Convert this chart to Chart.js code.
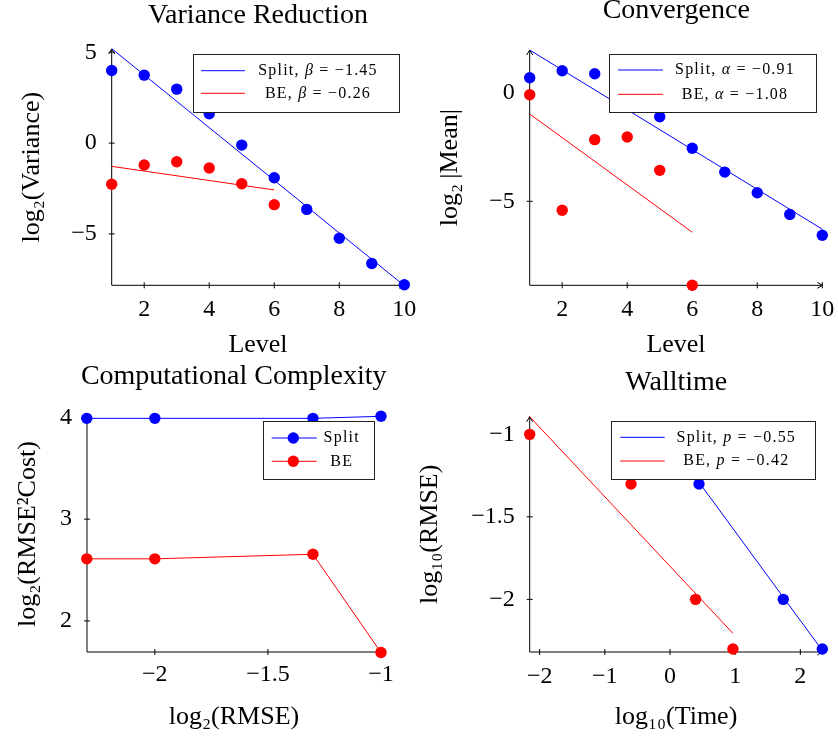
<!DOCTYPE html>
<html><head><meta charset="utf-8">
<script src="https://cdn.jsdelivr.net/npm/chart.js@4.4.0/dist/chart.umd.min.js"></script>
<style>
html,body{margin:0;padding:0;background:#fff;}
body{width:838px;height:739px;position:relative;overflow:hidden;}
canvas{position:absolute;left:0;top:0;width:838px;height:739px;}
</style></head><body>
<canvas id="c1" width="838" height="739"></canvas>
<canvas id="c2" width="838" height="739"></canvas>
<canvas id="c3" width="838" height="739"></canvas>
<canvas id="c4" width="838" height="739"></canvas>
<script>
// ---------- data ----------
const levels   = [1, 2, 3, 4, 5, 6, 7, 8, 9, 10];
const beLevels = [1, 2, 3, 4, 5, 6];

// Variance Reduction
const varSplit    = [4.0, 3.74, 2.97, 1.61, -0.11, -1.91, -3.65, -5.24, -6.63, -7.80];
const varBE       = [-2.27, -1.21, -1.03, -1.37, -2.24, -3.39];
const varSplitFitX = [1, 10];
const varSplitFitY = [5.2, -7.85];
const varBEFitX    = [1, 6];
const varBEFitY    = [-1.28, -2.58];

// Convergence
const meanSplit    = [0.67, 0.99, 0.85, -0.2, -1.12, -2.57, -3.66, -4.61, -5.60, -6.56];
const meanBE       = [-0.11, -5.41, -2.17, -2.05, -3.58, -8.85];
const meanSplitFitX = [1, 10];
const meanSplitFitY = [1.94, -6.28];
const meanBEFitX    = [1, 6];
const meanBEFitY    = [-0.995, -6.42];

// Computational Complexity
const rmseLog2   = [-2.301, -2.0, -1.301, -1.0];
const compSplit  = [3.99, 3.99, 3.99, 4.01];
const compBE     = [2.61, 2.61, 2.655, 1.69];

// Walltime
const wallBETime    = [-2.153, -0.598, 0.393, 0.966];
const wallBERmse    = [-1.0, -1.301, -2.0, -2.301];
const wallSplitTime = [0.445, 1.738, 2.337];
const wallSplitRmse = [-1.301, -2.0, -2.301];
const wallBEFitX    = [-2.153, 0.966];
const wallBEFitY    = [-0.893, -2.206];
const wallSplitFitX = [0.445, 2.337];
const wallSplitFitY = [-1.29, -2.31];

// tick labels
const levelTicks   = [2, 4, 6, 8, 10];
const varYTicks    = [5, 0, -5];
const meanYTicks   = [0, -5];
const compXTicks   = [-2, -1.5, -1];
const compYTicks   = [4, 3, 2];
const wallXTicks   = [-2, -1, 0, 1, 2];
const wallYTicks   = [-1, -1.5, -2];

// ---------- helpers ----------
const BLUE = '#0000ff', RED = '#ff0000';
const SERIF = '"Liberation Serif", "DejaVu Serif", serif';
const pts = (xs, ys) => xs.map((x, i) => ({x: x, y: ys[i]}));
const fmt = v => (v < 0 ? '\u2212' : '') + Math.abs(v);

function scatterDs(label, xs, ys, color) {
  return {label, data: pts(xs, ys), showLine: false, pointRadius: 5.7, pointBorderWidth: 0,
    pointBackgroundColor: color, backgroundColor: color, borderColor: color, clip: false};
}
function lineDs(label, xs, ys, color, withPoints) {
  return {label, data: pts(xs, ys), showLine: true, borderWidth: 1, borderColor: color,
    backgroundColor: color, pointBackgroundColor: color, pointBorderWidth: 0,
    pointRadius: withPoints ? 5.7 : 0, clip: false, tension: 0};
}

const axesPlugin = {
  id: 'pgfAxes',
  beforeDatasetsDraw(chart) {
    const {ctx, chartArea: a, scales: {x, y}} = chart;
    ctx.save();
    ctx.strokeStyle = '#000'; ctx.lineWidth = 1;
    ctx.beginPath();
    ctx.moveTo(a.left, a.bottom); ctx.lineTo(a.left, a.top);
    ctx.moveTo(a.left, a.bottom); ctx.lineTo(a.right, a.bottom);
    // arrowheads
    ctx.moveTo(a.left - 3, a.top + 5); ctx.lineTo(a.left, a.top); ctx.lineTo(a.left + 3, a.top + 5);
    ctx.moveTo(a.right - 5, a.bottom - 3); ctx.lineTo(a.right, a.bottom); ctx.lineTo(a.right - 5, a.bottom + 3);
    x.ticks.forEach(t => { const p = x.getPixelForValue(t.value); ctx.moveTo(p, a.bottom - 3); ctx.lineTo(p, a.bottom + 3); });
    y.ticks.forEach(t => { const p = y.getPixelForValue(t.value); ctx.moveTo(a.left - 3, p); ctx.lineTo(a.left + 3, p); });
    ctx.stroke();
    ctx.restore();
  }
};

const overlayPlugin = {
  id: 'overlay',
  afterDraw(chart) {
    const o = chart.options.plugins.overlay;
    const ctx = chart.ctx;
    ctx.save();
    // title
    ctx.font = '28px ' + SERIF;
    ctx.fillStyle = '#000';
    ctx.textAlign = 'center'; ctx.textBaseline = 'middle';
    ctx.fillText(o.title, o.titleX, o.titleY);
    // legend
    const L = o.legend;
    const [x0, y0, x1, y1] = L.box;
    ctx.fillStyle = '#fff';
    ctx.fillRect(x0, y0, x1 - x0, y1 - y0);
    ctx.strokeStyle = '#222'; ctx.lineWidth = 1;
    ctx.strokeRect(Math.round(x0) + 0.5, Math.round(y0) + 0.5, Math.round(x1 - x0), Math.round(y1 - y0));
    L.rows.forEach(r => {
      ctx.strokeStyle = r.color; ctx.lineWidth = 1;
      ctx.beginPath(); ctx.moveTo(L.line[0], r.y); ctx.lineTo(L.line[1], r.y); ctx.stroke();
      if (L.marker) {
        ctx.fillStyle = r.color;
        ctx.beginPath(); ctx.arc(L.marker, r.y, 5.7, 0, Math.PI * 2); ctx.fill();
      }
      ctx.fillStyle = '#000';
      ctx.textAlign = 'left'; ctx.textBaseline = 'middle';
      ctx.letterSpacing = '1.2px';
      let total = 0;
      const widths = r.parts.map(([s, it]) => {
        ctx.font = (it ? 'italic ' : '') + '16px ' + SERIF;
        const w = ctx.measureText(s).width; total += w; return w;
      });
      let xx = L.cx - total / 2;
      r.parts.forEach(([s, it], i) => {
        ctx.font = (it ? 'italic ' : '') + '16px ' + SERIF;
        ctx.fillText(s, xx, r.y);
        xx += widths[i];
      });
      ctx.letterSpacing = '0px';
    });
    ctx.restore();
  }
};

function makeChart(id, c) {
  const canvas = document.getElementById(id);
  const W = canvas.width, H = canvas.height;
  return new Chart(canvas, {
    type: 'scatter',
    data: {datasets: c.datasets},
    plugins: [axesPlugin, overlayPlugin],
    options: {
      responsive: false, animation: false, devicePixelRatio: 1, events: [],
      layout: {autoPadding: false, padding: {left: c.ox, right: W - c.area.r, top: c.area.t, bottom: H - c.oy}},
      plugins: {legend: {display: false}, tooltip: {enabled: false}, title: {display: false},
        overlay: {title: c.title, titleX: c.titleX, titleY: c.titleY, legend: c.legend}},
      scales: {
        x: {
          type: 'linear', min: c.xMin, max: c.xMax,
          afterBuildTicks: s => { s.ticks = c.xTicks.map(v => ({value: v})); },
          afterFit: s => { s.height = c.oy - c.area.b; s.paddingLeft = 0; s.paddingRight = 0; },
          grid: {display: false, drawTicks: false}, border: {display: false},
          ticks: {autoSkip: false, maxRotation: 0, padding: c.xTickPad, color: '#000',
            font: {family: SERIF, size: 24}, callback: v => fmt(v)},
          title: {display: true, text: c.xTitle, color: '#000', font: {family: SERIF, size: 26, lineHeight: 1.2},
            padding: {top: 0, bottom: c.oy - c.xTitleY - 15.6}}
        },
        y: {
          type: 'linear', min: c.yMin, max: c.yMax,
          afterBuildTicks: s => { s.ticks = c.yTicks.map(v => ({value: v})); },
          afterFit: s => { s.width = c.area.l - c.ox; s.paddingTop = 0; s.paddingBottom = 0; },
          grid: {display: false, drawTicks: false}, border: {display: false},
          ticks: {autoSkip: false, padding: 15, color: '#000',
            font: {family: SERIF, size: 24}, callback: v => fmt(v)},
          title: {display: true, text: c.yTitle, color: '#000', font: {family: SERIF, size: 26, lineHeight: 1.2},
            padding: {top: c.yTitleX - c.ox - 15.6, bottom: 0}}
        }
      }
    }
  });
}

// Panel 1: Variance Reduction
makeChart('c1', {
  ox: 0, oy: 370,
  area: {l: 111.7, r: 404.3, t: 49, b: 285.3},
  xMin: 1, xMax: 10, yMin: -7.83, yMax: 5.18,
  xTicks: levelTicks, yTicks: varYTicks, xTickPad: 10,
  xTitle: 'Level', yTitle: 'log\u2082(Variance)', xTitleY: 345, yTitleX: 31.7,
  title: 'Variance Reduction', titleX: 258, titleY: 16,
  datasets: [
    lineDs('Split fit', varSplitFitX, varSplitFitY, BLUE, false),
    lineDs('BE fit', varBEFitX, varBEFitY, RED, false),
    scatterDs('Split', levels, varSplit, BLUE),
    scatterDs('BE', beLevels, varBE, RED)
  ],
  legend: {box: [192.7, 54.3, 398.3, 112.3], line: [201, 245], cx: 318, rows: [
    {color: BLUE, y: 70.7, parts: [['Split, ', false], ['\u03b2', true], [' = \u22121.45', false]]},
    {color: RED, y: 93.3, parts: [['BE, ', false], ['\u03b2', true], [' = \u22120.26', false]]}
  ]}
});

// Panel 2: Convergence
makeChart('c2', {
  ox: 419, oy: 370,
  area: {l: 529.7, r: 822.3, t: 50, b: 285.3},
  xMin: 1, xMax: 10, yMin: -8.853, yMax: 1.94,
  xTicks: levelTicks, yTicks: meanYTicks, xTickPad: 10,
  xTitle: 'Level', yTitle: 'log\u2082\u2009|Mean|', xTitleY: 345, yTitleX: 449.7,
  title: 'Convergence', titleX: 676.3, titleY: 11,
  datasets: [
    lineDs('Split fit', meanSplitFitX, meanSplitFitY, BLUE, false),
    lineDs('BE fit', meanBEFitX, meanBEFitY, RED, false),
    scatterDs('Split', levels, meanSplit, BLUE),
    scatterDs('BE', beLevels, meanBE, RED)
  ],
  legend: {box: [609, 54.3, 816.3, 112.3], line: [618, 663], cx: 735, rows: [
    {color: BLUE, y: 70, parts: [['Split, ', false], ['\u03b1', true], [' = \u22120.91', false]]},
    {color: RED, y: 94.3, parts: [['BE, ', false], ['\u03b1', true], [' = \u22121.08', false]]}
  ]}
});

// Panel 3: Computational Complexity
makeChart('c3', {
  ox: 0, oy: 739,
  area: {l: 87, r: 381, t: 416, b: 652},
  xMin: -2.3, xMax: -1.0, yMin: 1.695, yMax: 4.013,
  xTicks: compXTicks, yTicks: compYTicks, xTickPad: 8.6,
  xTitle: 'log\u2082(RMSE)', yTitle: 'log\u2082(RMSE\u00b2Cost)', xTitleY: 716.7, yTitleX: 28.3,
  title: 'Computational Complexity', titleX: 233.7, titleY: 376.7,
  datasets: [
    lineDs('Split', rmseLog2, compSplit, BLUE, true),
    lineDs('BE', rmseLog2, compBE, RED, true)
  ],
  legend: {box: [263.3, 421, 374, 479], line: [271.7, 316.7], marker: 293.3, cx: 341.7, rows: [
    {color: BLUE, y: 438, parts: [['Split', false]]},
    {color: RED, y: 461.3, parts: [['BE', false]]}
  ]}
});

// Panel 4: Walltime
makeChart('c4', {
  ox: 410, oy: 739,
  area: {l: 529.7, r: 822.3, t: 416.7, b: 652},
  xMin: -2.153, xMax: 2.337, yMin: -2.319, yMax: -0.893,
  xTicks: wallXTicks, yTicks: wallYTicks, xTickPad: 10,
  xTitle: 'log\u2081\u2080(Time)', yTitle: 'log\u2081\u2080(RMSE)', xTitleY: 716.7, yTitleX: 429.7,
  title: 'Walltime', titleX: 676.3, titleY: 382.5,
  datasets: [
    lineDs('Split fit', wallSplitFitX, wallSplitFitY, BLUE, false),
    lineDs('BE fit', wallBEFitX, wallBEFitY, RED, false),
    scatterDs('Split', wallSplitTime, wallSplitRmse, BLUE),
    scatterDs('BE', wallBETime, wallBERmse, RED)
  ],
  legend: {box: [611.3, 421, 815.7, 479], line: [620.3, 664.7], cx: 736.3, rows: [
    {color: BLUE, y: 437.3, parts: [['Split, ', false], ['p', true], [' = \u22120.55', false]]},
    {color: RED, y: 461, parts: [['BE, ', false], ['p', true], [' = \u22120.42', false]]}
  ]}
});
</script>
</body></html>
